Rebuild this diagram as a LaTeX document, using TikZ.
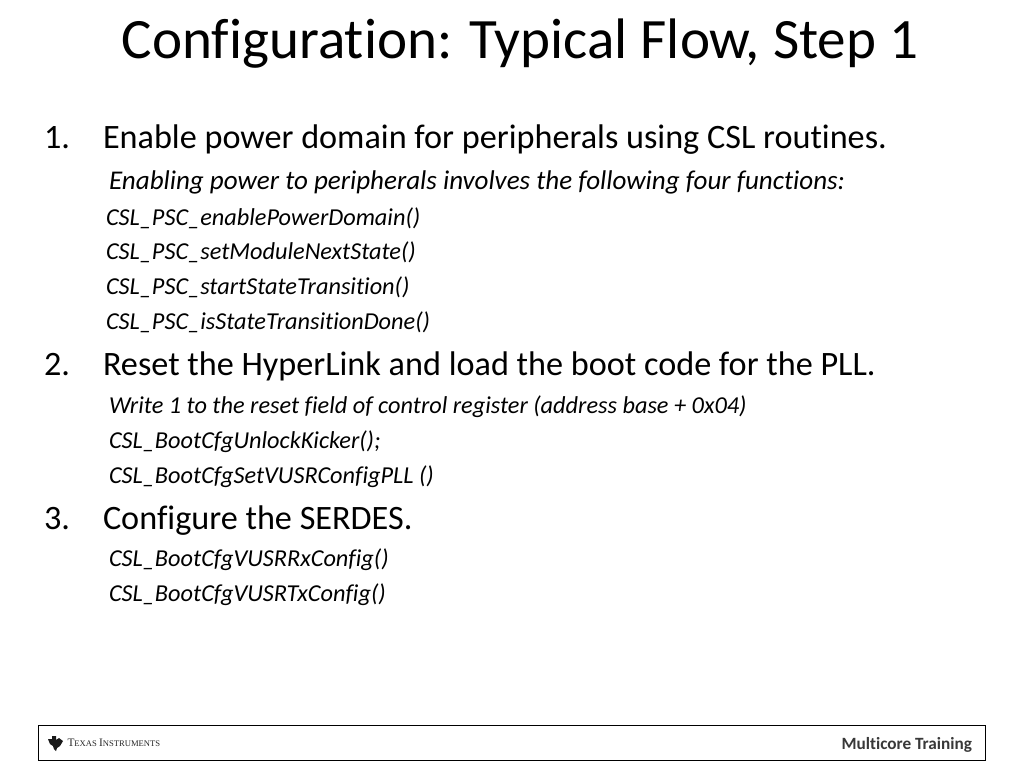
\documentclass[tikz,border=0pt]{standalone}
\usepackage{fontspec}
\setmainfont[RawFeature={-liga;-clig;-dlig}]{Carlito}
\newfontfamily\tifont{Liberation Serif}
\newcommand{\us}{\char`\_}
\begin{document}
\begin{tikzpicture}[x=1pt,y=-1pt,
 every node/.style={anchor=base west,inner sep=0pt,outer sep=0pt},
 titletext/.style={font=\fontsize{57.1}{57}\selectfont},
 mainitem/.style={font=\fontsize{34.2}{34}\selectfont},
 subitem/.style={font=\fontsize{24.3}{24}\selectfont\itshape},
 leadtext/.style={font=\fontsize{27.05}{27}\selectfont\itshape},
 ]
\useasboundingbox (0,0) rectangle (1024,768);
\fill[white] (0,0) rectangle (1024,768);
\node[titletext,anchor=base] (title) at (520,59) {Configuration: Typical Flow, Step 1};
\node[mainitem] (n1) at (44,148) {1.};
\node[mainitem] (t1) at (103,148) {Enable power domain for peripherals using CSL routines.};
\node[leadtext] (s1) at (109,189) {Enabling power to peripherals involves the following four functions:};
\node[subitem] (s2) at (106,225) {CSL\us PSC\us enablePowerDomain()};
\node[subitem] (s3) at (106,259) {CSL\us PSC\us setModuleNextState()};
\node[subitem] (s4) at (106,294) {CSL\us PSC\us startStateTransition()};
\node[subitem] (s5) at (106,329) {CSL\us PSC\us isStateTransitionDone()};
\node[mainitem] (n2) at (44,375.5) {2.};
\node[mainitem] (t2) at (103,375.5) {Reset the HyperLink and load the boot code for the PLL.};
\node[subitem] (s6) at (109,413) {Write 1 to the reset field of control register (address base + 0x04)};
\node[subitem] (s7) at (109,448) {CSL\us BootCfgUnlockKicker();};
\node[subitem] (s8) at (109,483) {CSL\us BootCfgSetVUSRConfigPLL ()};
\node[mainitem] (n3) at (44,529) {3.};
\node[mainitem] (t3) at (103,529) {Configure the SERDES.};
\node[subitem] (s9) at (109,566) {CSL\us BootCfgVUSRRxConfig()};
\node[subitem] (s10) at (109,601) {CSL\us BootCfgVUSRTxConfig()};
\node[draw=black,line width=0.8pt,anchor=north west,minimum width=947pt,minimum height=35.5pt] (bar) at (38,725) {};
\fill[black!90] (48,739) -- (52,739) -- (52,736) -- (56,736) -- (56,740) -- (59,738) -- (63,741) -- (60,746) -- (57,748) -- (56,751) -- (54,749) -- (53,746) -- (50,744) -- cycle;
\node[font=\tifont\fontsize{11.4}{12}\selectfont,text=black!85] (ti) at (67.5,746) {T\fontsize{8.6}{9}\selectfont EXAS \fontsize{11.4}{12}\selectfont I\fontsize{8.6}{9}\selectfont NSTRUMENTS};
\node[font=\fontsize{17.2}{17}\selectfont\bfseries,text=black!78,anchor=base east] (mt) at (972,749) {Multicore Training};
\end{tikzpicture}
\end{document}
